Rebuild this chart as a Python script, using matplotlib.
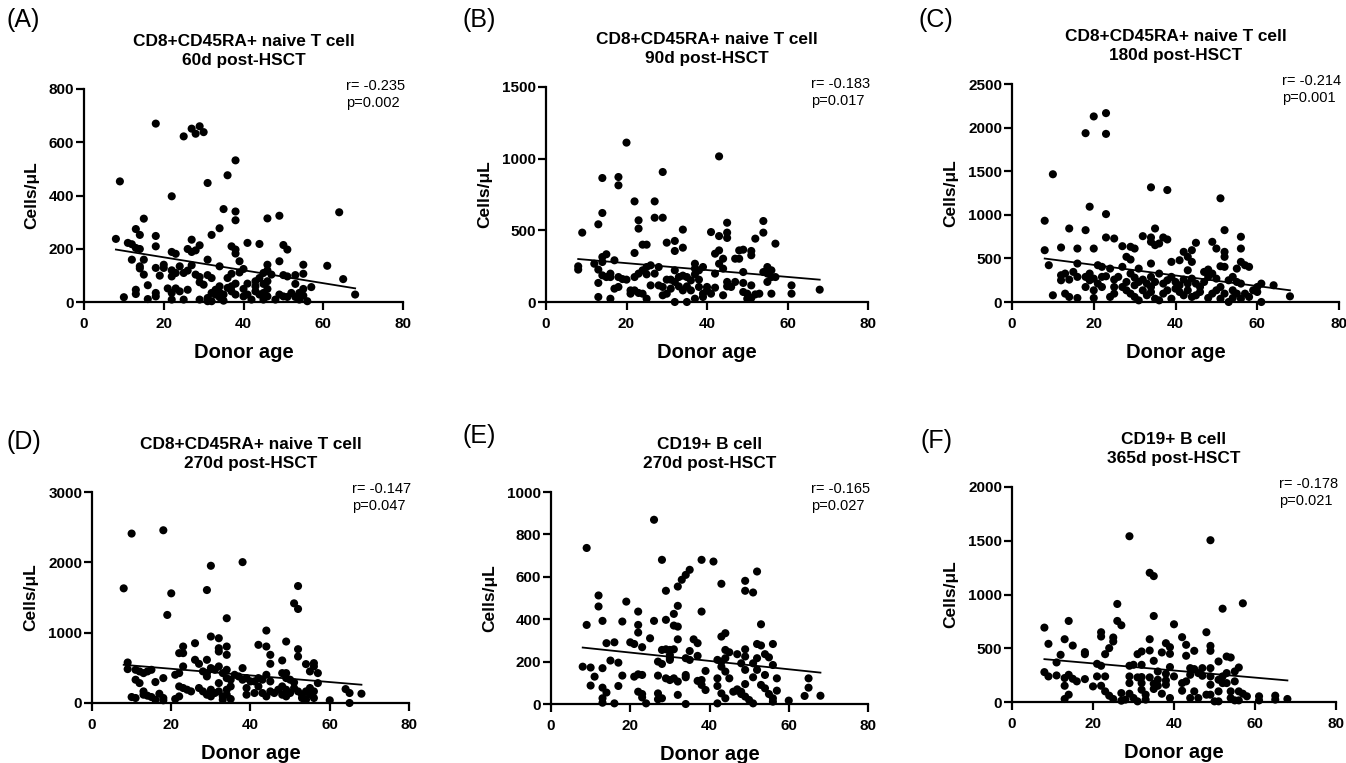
import matplotlib
matplotlib.use("Agg")
import matplotlib.pyplot as plt
import numpy as np

plt.rcParams['font.family'] = ['Liberation Sans', 'DejaVu Sans']

# (A) CD8+CD45RA+ naive T cell, 60d
ageA = [18,25,27,28,29,30,9,31,38,36,22,35,38,38,34,32,15,13,14,18,8,64,49,46,27,29,41,44,50,51,
        37,38,38,11,12,13,14,18,22,23,26,27,28,12,15,14,14,15,18,20,20,19,22,22,23,24,25,26,27,28,
        29,29,30,31,31,32,34,36,37,39,40,39,38,37,41,40,43,44,45,46,46,47,45,46,49,50,51,53,53,55,
        55,55,57,61,65,68,
        10,13,13,16,16,18,18,21,22,22,23,24,25,26,29,31,32,33,33,34,34,34,35,36,38,40,41,42,43,44,
        45,45,46,49,50,51,52,53,54,54,55,56,48,32,31,35,37,43,46]
cellsA = [670,622,651,632,660,638,453,447,532,476,397,349,340,307,277,252,313,274,252,248,237,337,324,314,234,213,222,218,214,197,
          209,197,182,222,217,203,199,209,188,181,199,188,194,159,159,134,126,103,128,140,128,99,119,96,109,134,109,118,138,103,
          94,74,65,159,101,90,134,90,106,153,124,111,69,40,69,49,78,90,109,119,140,103,68,49,153,101,96,101,68,140,
          106,49,56,136,86,28,
          18,46,30,63,11,34,21,51,34,9,51,40,9,46,9,15,3,46,28,59,36,18,5,53,28,21,28,9,40,28,
          34,9,21,28,21,19,34,19,34,9,24,3,9,34,3,28,59,59,78]

# (B) CD8+CD45RA+ naive T cell, 90d
ageB = [20,43,29,14,18,18,14,22,27,13,23,23,27,29,9,34,41,43,45,45,54,54,52,45,57,30,32,32,34,24,
        25,22,15,14,14,17,12,8,8,13,13,14,15,16,16,17,18,18,19,20,21,22,22,23,23,24,25,25,26,26,
        27,28,28,29,30,30,31,31,32,32,33,33,34,35,35,36,37,37,37,38,38,38,39,40,41,42,42,43,43,42,
        44,44,45,45,44,47,47,48,48,49,49,49,50,51,51,51,52,53,55,55,55,56,56,56,57,61,61,68,13,16,
        25,32,35,37,39,39,50,51,21,24,29,34,36,40,46,49,54]
cellsB = [1112,1016,907,865,872,814,621,702,702,542,570,512,588,588,484,505,488,460,484,553,565,484,442,447,407,414,426,356,379,400,
          400,342,333,314,279,291,267,249,226,226,133,186,174,198,174,93,174,105,160,156,81,174,81,198,63,221,244,193,256,116,
          198,244,116,105,156,58,156,93,221,140,174,109,184,174,109,151,267,233,193,221,156,105,244,81,58,100,198,267,360,337,
          302,233,140,109,47,302,140,360,302,365,209,70,58,356,326,116,53,58,244,198,140,221,174,58,174,116,58,86,35,23,
          23,0,0,23,58,35,23,28,58,58,47,81,81,105,105,133,209]

# (C) CD8+CD45RA+ naive T cell, 180d
ageC = [23,20,18,23,10,34,38,51,19,23,8,14,18,35,52,23,25,32,34,34,37,38,56,49,45,8,12,16,20,27,
        29,30,36,35,50,52,52,56,44,42,9,16,34,39,41,43,44,28,29,56,57,58,55,51,52,48,47,22,21,24,
        27,31,12,13,15,18,19,20,22,23,25,26,28,29,30,31,32,33,34,35,36,37,38,39,40,41,42,43,44,45,
        46,48,49,50,51,53,54,55,56,61,64,60,68,61,10,13,14,16,12,14,18,20,20,22,24,25,27,28,29,30,
        31,32,33,34,35,36,37,38,39,41,42,43,44,45,46,48,49,50,51,52,53,54,55,56,57,58,60,21,25,30,
        34,40,43,47,54,59,16,19]
cellsC = [2166,2128,1936,1928,1465,1315,1284,1189,1093,1008,932,843,824,843,824,740,728,755,740,690,740,717,748,690,679,594,625,613,613,640,
          633,613,671,652,613,575,518,613,594,575,422,441,441,460,479,518,460,518,487,460,422,403,383,410,403,372,345,403,422,383,
          403,383,307,326,345,288,249,268,288,295,257,288,230,326,280,230,257,211,288,230,326,211,249,288,230,192,257,364,268,211,
          172,288,326,268,172,249,288,230,211,211,192,115,65,0,77,96,58,46,249,257,172,134,46,172,58,96,172,134,96,58,
          19,134,77,115,38,19,96,134,38,115,77,134,58,77,115,46,96,134,38,96,0,46,96,38,96,58,172,211,172,192,
          172,153,211,230,134,134,288,326]

# (D) CD8+CD45RA+ naive T cell, 270d
ageD = [8,10,18,20,19,29,30,38,34,51,52,52,44,30,32,26,23,22,23,32,32,34,34,42,44,45,45,49,52,52,
        48,56,56,54,57,55,57,9,9,11,12,13,14,15,11,12,18,16,21,22,23,26,27,29,28,29,29,30,31,32,
        33,34,34,35,36,37,38,38,39,40,41,42,43,44,45,48,49,49,50,51,11,10,13,13,14,15,16,17,18,18,
        21,22,22,23,24,25,27,28,29,30,30,31,32,32,33,33,34,34,35,35,39,39,41,42,43,44,45,46,47,48,
        48,49,49,50,51,52,53,53,54,54,55,55,56,56,60,64,65,65,68]
cellsD = [1630,2409,2456,1559,1252,1606,1951,2003,1205,1417,1337,1663,1030,945,921,850,803,709,709,779,732,803,685,827,803,685,557,874,765,661,
          605,567,520,553,425,449,283,576,482,472,449,425,449,472,331,283,354,298,401,425,520,614,557,614,449,425,378,496,472,520,
          425,472,354,331,401,378,496,331,354,307,307,354,331,401,307,425,425,354,331,293,71,85,165,118,104,85,47,132,71,38,
          57,94,236,213,189,165,213,165,118,94,189,142,283,165,94,47,189,118,57,236,213,118,142,236,142,94,165,142,189,236,
          118,189,94,142,213,165,118,71,165,47,213,118,165,71,38,198,142,0,132]

# (E) CD19+ B cell, 270d
ageE = [26,9,28,38,41,35,34,33,32,29,52,49,49,51,43,12,12,19,32,31,31,32,9,13,18,22,22,22,26,29,
        38,53,25,20,21,23,14,16,36,37,43,44,44,45,35,37,28,30,29,31,32,30,27,28,30,34,35,42,43,44,
        43,44,47,48,49,49,49,51,52,53,52,54,55,52,56,56,54,57,8,10,11,13,15,17,18,21,22,23,27,29,
        30,31,32,34,34,37,38,39,39,42,42,45,46,47,48,49,51,53,54,55,57,65,65,64,68,10,13,13,13,14,
        16,17,22,23,23,24,27,27,28,32,34,38,42,43,44,47,48,49,50,51,56,56,60,30]
cellsE = [869,736,680,680,672,633,609,586,554,534,625,581,534,526,567,512,460,483,463,425,370,365,373,392,389,436,373,337,392,397,
          436,376,310,291,283,268,287,291,305,287,318,334,255,244,250,227,255,255,258,258,305,231,200,189,208,216,208,208,200,216,
          176,153,235,192,258,224,161,192,283,276,216,235,220,161,283,184,137,121,176,172,129,169,205,195,134,129,140,137,134,121,
          113,121,106,137,126,109,90,156,66,121,85,121,58,69,58,94,126,90,74,47,63,121,77,38,39,87,77,27,6,54,
          3,85,58,47,31,3,50,22,27,43,0,113,3,50,27,63,47,35,19,3,27,11,16,216]

# (F) CD19+ B cell, 365d
ageF = [29,49,34,35,26,57,52,35,40,26,27,14,8,48,22,22,42,25,25,34,9,13,15,18,18,23,24,38,39,39,
        37,43,43,34,32,31,49,49,45,35,51,53,54,12,11,8,9,11,14,15,16,13,13,14,13,18,20,21,21,22,
        22,23,23,24,25,27,27,28,29,29,29,29,30,31,30,31,32,32,32,32,33,33,34,35,35,36,36,36,37,38,
        38,39,39,40,42,42,43,44,44,44,45,45,46,46,47,47,48,49,49,49,49,50,51,51,51,52,52,53,53,54,
        54,55,55,55,56,56,56,57,58,61,61,65,65,68,38]
cellsF = [1542,1505,1202,1171,912,918,868,800,723,754,714,754,692,649,649,609,603,600,563,584,541,584,525,464,445,445,501,547,510,448,
          461,532,430,479,470,445,522,476,476,383,377,423,414,439,368,278,238,247,253,216,192,223,151,68,28,213,145,238,355,337,
          151,238,99,59,28,83,12,22,337,238,176,77,37,6,346,229,346,232,176,114,68,22,229,170,121,284,207,151,77,201,
          161,325,37,238,176,105,192,315,253,37,306,99,269,37,315,244,68,315,238,161,68,6,207,99,6,238,176,269,176,99,
          37,284,192,15,321,99,15,77,53,53,15,59,22,28,262]

# fitted regression lines (intercept, slope)
fitA = (216.5, -2.43)
fitB = (319.0, -2.40)
fitC = (547.0, -6.07)
fitD = (581.0, -4.72)
fitE = (282.0, -1.97)
fitF = (425.0, -3.30)

titles = ["CD8+CD45RA+ naive T cell\n60d post-HSCT",
          "CD8+CD45RA+ naive T cell\n90d post-HSCT",
          "CD8+CD45RA+ naive T cell\n180d post-HSCT",
          "CD8+CD45RA+ naive T cell\n270d post-HSCT",
          "CD19+ B cell\n270d post-HSCT",
          "CD19+ B cell\n365d post-HSCT"]
panel_labels = ["(A)", "(B)", "(C)", "(D)", "(E)", "(F)"]
r_vals = ["-0.235", "-0.183", "-0.214", "-0.147", "-0.165", "-0.178"]
p_vals = ["0.002", "0.017", "0.001", "0.047", "0.027", "0.021"]
y_max = [800, 1500, 2500, 3000, 1000, 2000]
y_step = [200, 500, 500, 1000, 200, 500]

ages = [ageA, ageB, ageC, ageD, ageE, ageF]
cells = [cellsA, cellsB, cellsC, cellsD, cellsE, cellsF]
fits = [fitA, fitB, fitC, fitD, fitE, fitF]

W, H = 1346, 763
fig = plt.figure(figsize=(W / 100, H / 100), dpi=100)

# axes boxes in pixels: left, top, right, bottom
boxes = [(84, 89, 403, 302), (546, 87, 868, 302), (1012, 84, 1339, 302),
         (92, 492, 409, 703), (551, 492, 868, 704), (1012, 487, 1336, 702)]
label_pos = [(7, 20), (463, 20), (918, 20), (7, 442), (463, 436), (921, 441)]

for i in range(6):
    l, t, r, b = boxes[i]
    ax = fig.add_axes([l / W, 1 - b / H, (r - l) / W, (b - t) / H])
    x = np.array(ages[i])
    y = np.array(cells[i])
    ax.scatter(x, y, s=34, color='black', edgecolors='none', clip_on=False, zorder=3)
    xs = np.array([x.min(), x.max()])
    ax.plot(xs, fits[i][0] + fits[i][1] * xs, color='black', lw=1.3, zorder=4)

    ax.set_xlim(0, 80)
    ax.set_ylim(0, y_max[i])
    ax.set_xticks(np.arange(0, 81, 20))
    ax.set_yticks(np.arange(0, y_max[i] + 1, y_step[i]))
    for s in ['top', 'right']:
        ax.spines[s].set_visible(False)
    for s in ['left', 'bottom']:
        ax.spines[s].set_linewidth(1.6)
    ax.tick_params(direction='out', length=5.5, width=1.6, labelsize=11)
    ax.tick_params(axis='x', pad=5)
    ax.tick_params(axis='y', pad=1.5)
    for lab in ax.get_xticklabels() + ax.get_yticklabels():
        lab.set_fontweight('bold')

    ax.set_xlabel("Donor age", fontsize=14.5, fontweight='bold', labelpad=9)
    ax.set_ylabel("Cells/μL", fontsize=12.5, fontweight='bold', labelpad=7)
    ax.set_title(titles[i], fontsize=12.4, fontweight='bold', pad=17, linespacing=1.4)
    ax.annotate("r= %s\np=%s" % (r_vals[i], p_vals[i]), xy=(1, 1), xycoords='axes fraction',
                xytext=(-41, 7), textcoords='offset points', ha='left', va='top',
                fontsize=10.5, linespacing=1.25)

    lx, ly = label_pos[i]
    fig.text(lx / W, 1 - ly / H, panel_labels[i], fontsize=18, ha='left', va='center')

fig.savefig("out.png", dpi=100)
